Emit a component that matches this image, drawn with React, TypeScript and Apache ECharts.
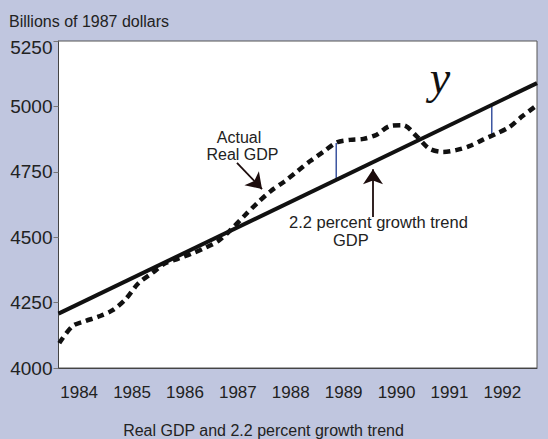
import React, { useEffect, useRef } from "react";
import * as echarts from "echarts";

// ---- data ----
const yearTicks = [1984, 1985, 1986, 1987, 1988, 1989, 1990, 1991, 1992];
const yTicks = [4000, 4250, 4500, 4750, 5000, 5250];

// Actual real GDP, quarterly (billions of 1987 dollars)
const gdpDates = [
  1983.625, 1983.875, 1984.125, 1984.375, 1984.625, 1984.875, 1985.125, 1985.375,
  1985.625, 1985.875, 1986.125, 1986.375, 1986.625, 1986.875, 1987.125, 1987.375,
  1987.625, 1987.875, 1988.125, 1988.375, 1988.625, 1988.875, 1989.125, 1989.375,
  1989.625, 1989.875, 1990.125, 1990.375, 1990.625, 1990.875, 1991.125, 1991.375,
  1991.625, 1991.875, 1992.125, 1992.375, 1992.625,
];
const gdpValues = [
  4095, 4160, 4180, 4197, 4220, 4262, 4325, 4362,
  4400, 4418, 4437, 4459, 4485, 4530, 4582, 4632,
  4677, 4712, 4752, 4792, 4828, 4863, 4872, 4876,
  4892, 4925, 4928, 4887, 4838, 4826, 4833, 4848,
  4872, 4895, 4920, 4962, 5000,
];

// 2.2 percent growth trend
const trendDates = [1983.61, 1992.655];
const trendValues = [4208, 5089];

// gaps between actual and trend
const gapDates = [1988.86, 1991.8];
const gapTop = [4860, 5006];
const gapBottom = [4722, 4883];

// annotation arrows [fromDate, fromValue, toDate, toValue]
const arrowActual = [1986.984, 4784, 1987.457, 4684];
const arrowTrend = [1989.555, 4577, 1989.555, 4760];

const X_MIN = 1983.61;
const X_MAX = 1992.655;

const FONT = "'Liberation Sans', Arial, sans-serif";
const TEXT = "#222";

export default function App() {
  const ref = useRef<HTMLDivElement>(null);

  useEffect(() => {
    if (!ref.current) return;
    const chart = echarts.init(ref.current, null, { renderer: "svg" });

    const gdpData = gdpDates.map((d, i) => [d, gdpValues[i]]);
    const trendData = trendDates.map((d, i) => [d, trendValues[i]]);

    const gapSeries = gapDates.map((d, i) => ({
      type: "line",
      data: [
        [d, gapTop[i]],
        [d, gapBottom[i]],
      ],
      symbol: "none",
      lineStyle: { color: "#3b55a0", width: 1.5 },
      z: 1,
      silent: true,
    }));

    const option: any = {
      animation: false,
      backgroundColor: "#c0c6df",
      grid: {
        left: 58.5,
        right: 11,
        top: 41,
        bottom: 71,
        show: true,
        backgroundColor: "#ffffff",
        borderColor: "#555",
        borderWidth: 1,
      },
      xAxis: {
        type: "value",
        min: X_MIN,
        max: X_MAX,
        axisLine: { show: true, lineStyle: { color: "#444", width: 1 } },
        axisTick: { show: false },
        splitLine: { show: false },
        axisLabel: {
          customValues: yearTicks,
          color: TEXT,
          fontFamily: FONT,
          fontSize: 17,
          margin: 16,
          formatter: (v: number) => String(Math.round(v)),
        },
      },
      yAxis: {
        type: "value",
        min: 4000,
        max: 5250,
        interval: 250,
        axisLine: { show: true, lineStyle: { color: "#444", width: 1 } },
        axisTick: { show: true, length: 5, lineStyle: { color: "#777" } },
        splitLine: { show: false },
        axisLabel: {
          color: TEXT,
          fontFamily: FONT,
          fontSize: 19,
          margin: 6,
          formatter: (v: number) =>
            v === yTicks[yTicks.length - 1] ? `{top|${v}}` : `${v}`,
          rich: {
            top: {
              fontFamily: FONT,
              fontSize: 19,
              color: TEXT,
              padding: [12, 0, 0, 0],
            },
          },
        },
      },
      series: [
        ...gapSeries,
        {
          type: "line",
          name: "trend",
          data: trendData,
          symbol: "none",
          lineStyle: { color: "#111", width: 4, cap: "butt" },
          z: 3,
          silent: true,
        },
        {
          type: "line",
          name: "gdp",
          data: gdpData,
          symbol: "none",
          smooth: 0.3,
          lineStyle: { color: "#111", width: 4.5, type: [7, 5], cap: "butt" },
          z: 4,
          silent: true,
          markLine: {
            silent: true,
            symbol: ["none", "arrow"],
            symbolSize: 15,
            label: { show: false },
            lineStyle: { color: "#1c0c0c", width: 1.8, type: "solid" },
            data: [
              [
                { coord: [arrowActual[0], arrowActual[1]] },
                { coord: [arrowActual[2], arrowActual[3]] },
              ],
              [
                { coord: [arrowTrend[0], arrowTrend[1]] },
                { coord: [arrowTrend[2], arrowTrend[3]] },
              ],
            ],
          },
        },
      ],
      graphic: [
        {
          type: "text",
          x: 9,
          y: 21,
          style: {
            text: "Billions of 1987 dollars",
            fill: TEXT,
            font: `16px ${FONT}`,
            textAlign: "left",
            textVerticalAlign: "middle",
          },
        },
        {
          type: "text",
          x: 263.5,
          y: 430.5,
          style: {
            text: "Real GDP and 2.2 percent growth trend",
            fill: TEXT,
            font: `16px ${FONT}`,
            textAlign: "center",
            textVerticalAlign: "middle",
          },
        },
        {
          type: "text",
          x: 239,
          y: 137.5,
          z: 10,
          style: {
            text: "Actual",
            fill: TEXT,
            font: `16px ${FONT}`,
            textAlign: "center",
            textVerticalAlign: "middle",
          },
        },
        {
          type: "text",
          x: 242.5,
          y: 154,
          z: 10,
          style: {
            text: "Real GDP",
            fill: TEXT,
            font: `16px ${FONT}`,
            textAlign: "center",
            textVerticalAlign: "middle",
          },
        },
        {
          type: "text",
          x: 289,
          y: 222,
          z: 10,
          style: {
            text: "2.2 percent growth trend",
            fill: TEXT,
            font: `16.5px ${FONT}`,
            textAlign: "left",
            textVerticalAlign: "middle",
          },
        },
        {
          type: "text",
          x: 333,
          y: 240,
          z: 10,
          style: {
            text: "GDP",
            fill: TEXT,
            font: `16.5px ${FONT}`,
            textAlign: "left",
            textVerticalAlign: "middle",
          },
        },
        {
          type: "text",
          x: 440,
          y: 77,
          z: 10,
          style: {
            text: "y",
            fill: "#111",
            font: `italic 46px 'Liberation Serif', 'Times New Roman', serif`,
            textAlign: "center",
            textVerticalAlign: "middle",
          },
        },
      ],
    };

    chart.setOption(option);
    return () => chart.dispose();
  }, []);

  return (
    <div
      ref={ref}
      style={{ position: "fixed", left: 0, top: 0, width: 548, height: 439 }}
    />
  );
}
